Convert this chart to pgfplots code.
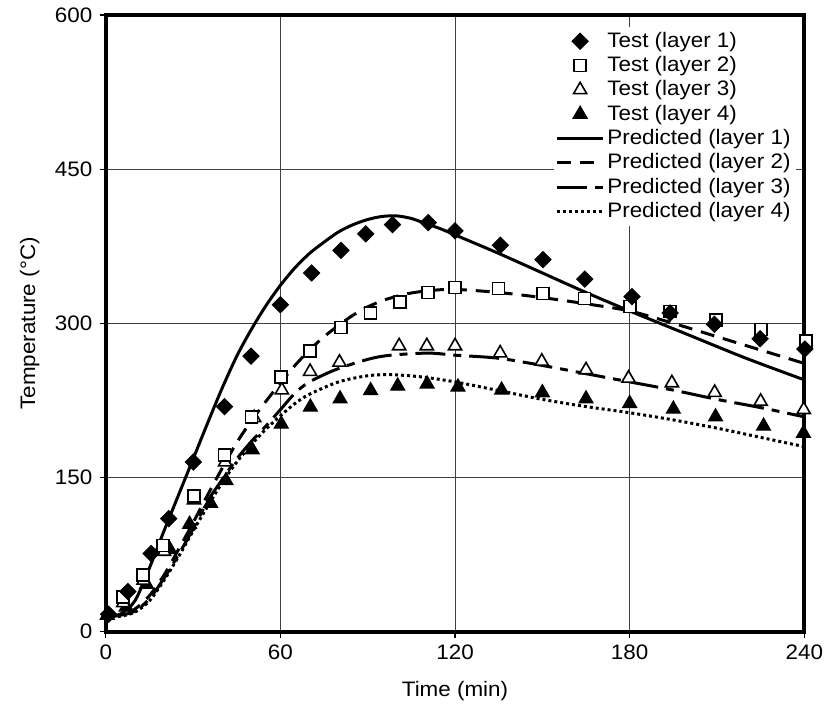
\documentclass[border=0pt]{standalone}
\usepackage{fontspec}
\setmainfont[FakeStretch=1.07]{Liberation Sans}
\usepackage{pgfplots}
\pgfplotsset{compat=1.18}
\pgfplotsset{
 lineleg/.style={legend image code/.code={\draw[##1] (0cm,0cm) -- (0.8cm,0cm);}},
 markleg/.style={legend image code/.code={\draw[mark repeat=2,mark phase=2,##1] plot coordinates {(0cm,0cm)(0.4cm,0cm)(0.8cm,0cm)};}},
}
\begin{document}
\fontsize{10.5}{12.5}\selectfont
\begin{tikzpicture}
\begin{axis}[
 scale only axis, width=350pt, height=309pt,
 xmin=0, xmax=240, ymin=0, ymax=600,
 xtick={0,60,...,240}, ytick={0,150,...,600},
 grid=major, grid style={line width=0.5pt, black!75},
 axis line style={line width=2pt},
 tick align=outside, xtick pos=bottom, ytick pos=left,
 major tick length=3pt, tick style={black, line width=0.6pt},
 /pgf/number format/assume math mode=true,
 ticklabel style={font=\fontsize{10.5}{12.5}\selectfont},
 xlabel={Time (min)}, ylabel={Temperature (°C)},
 label style={font=\fontsize{10.5}{12.5}\selectfont},
 xlabel style={at={(axis description cs:0.5,-0.097)}, anchor=center},
 ylabel style={at={(axis description cs:-0.109,0.5)}, anchor=center},
 legend style={at={(rel axis cs:0.988,0.981)}, anchor=north east, draw=none, fill=white,
   font=\fontsize{10.5}{12.5}\selectfont, row sep=0pt, inner sep=1pt, nodes={inner sep=1.5pt}},
 legend cell align=left,
 reverse legend,
 clip=false,
 mark options={solid},
]
% predicted curves
\addplot[black, line width=1.5pt, dash pattern=on 1.5pt off 1.5pt, smooth, lineleg] coordinates {
 (0,14) (5,15) (10,19) (15,30) (20,50) (25,73) (30,98) (35,122) (40,145) (45,165) (50,182) (55,197) (60,210) (65,222) (70,231) (80,243) (90,249) (98,250) (108,248) (120,243) (136,234) (150,226) (165,219) (180,213) (195,206) (210,198) (225,189) (240,180)};
\addlegendentry{Predicted (layer 4)}
\addplot[black, line width=1.5pt, dash pattern=on 15pt off 4pt on 4pt off 4pt, smooth, lineleg] coordinates {
 (0,15) (5,16) (10,20) (15,32) (20,52) (25,75) (30,100) (35,127) (40,148) (45,168) (50,185) (55,200) (60,216) (65,232) (70,243) (80,256) (94,267.5) (110,271) (120,269) (135,266) (150,259) (165,251) (180,243) (195,235) (210,226) (225,218) (240,209)};
\addlegendentry{Predicted (layer 3)}
\addplot[black, line width=1.5pt, dash pattern=on 7pt off 4.5pt, smooth, lineleg] coordinates {
 (0,15) (5,16) (10,22) (15,35) (20,55) (25,80) (30,106) (35,133) (40,159) (45,184) (50,205) (55,224) (60,242) (65,259) (70,274) (75,287) (80,298) (85,308) (90,316) (96,323) (104,329) (112,332) (120,333) (135,330) (150,325) (165,319) (180,312) (195,300) (210,287) (225,274) (240,261)};
\addlegendentry{Predicted (layer 2)}
\addplot[black, line width=1.5pt, smooth, lineleg] coordinates {
 (0,15) (5,17) (10,30) (15,62) (20,98) (25,133) (30,168) (35,203) (40,237) (45,268) (50,294) (55,317) (60,337) (65,354) (70,368) (75,379) (80,389) (85,396) (90,401) (95,404) (100,404.5) (105,402) (110,397) (115,392) (120,386) (135,368) (150,349) (165,330) (180,312) (200,289) (220,266) (240,245)};
\addlegendentry{Predicted (layer 1)}
% test data
\addplot[only marks, mark=triangle*, mark size=4pt, mark options={fill=black, draw=black, line width=0.6pt}, markleg] coordinates {
 (0.5,16) (7,24) (14,46) (22,80) (28.8,104.5) (36,125) (41.3,147) (50.3,177) (60.3,202) (70.3,218.5) (80.5,226.5) (91,234.6) (100.3,239) (110.4,241) (121,238) (136,235) (150,232.5) (165,226.5) (180,222) (195,216.5) (209.5,209) (226,200) (239.7,193)};
\addlegendentry{Test (layer 4)}
\addplot[only marks, mark=triangle*, mark size=3.8pt, mark options={fill=white, draw=black, line width=0.8pt}, markleg] coordinates {
 (6,28) (13,50) (20,78) (30.3,128) (41,165) (51,208) (60.5,235) (70.2,253) (80.3,262) (100.8,278) (110.3,278) (120,278) (135.5,271) (149.8,263) (165,254.6) (179.6,246.5) (194.5,242) (209.2,232.6) (225,224) (239.8,216)};
\addlegendentry{Test (layer 3)}
\addplot[only marks, mark=square*, mark size=3pt, mark options={fill=white, draw=black, line width=0.8pt}, markleg] coordinates {
 (6,34) (12.8,55) (19.6,84) (30.3,132) (40.8,172) (50.1,209) (60.3,248) (70.1,273) (80.8,296) (91,310) (101,321) (110.7,330) (120,335) (134.9,334) (150.3,329) (164.5,324) (180.2,316.5) (193.9,311.5) (209.6,303) (225.1,294) (240.5,283)};
\addlegendentry{Test (layer 2)}
\addplot[only marks, mark=square*, mark size=2.9pt, mark options={fill=black, draw=black, rotate=45}, markleg] coordinates {
 (1,17) (7.6,39) (15.6,76) (21.6,110) (30.1,165) (40.8,219) (49.9,268) (60,318) (70.7,349) (80.8,371) (89.3,387) (98.5,396) (110.8,398) (120,390) (135.6,376) (150.2,362) (164.6,343) (180.8,326) (193.9,310) (209.1,299) (224.8,285) (240.2,275)};
\addlegendentry{Test (layer 1)}
\end{axis}
\path (-53pt,-40pt) rectangle (362pt,316.5pt);
\end{tikzpicture}
\end{document}
